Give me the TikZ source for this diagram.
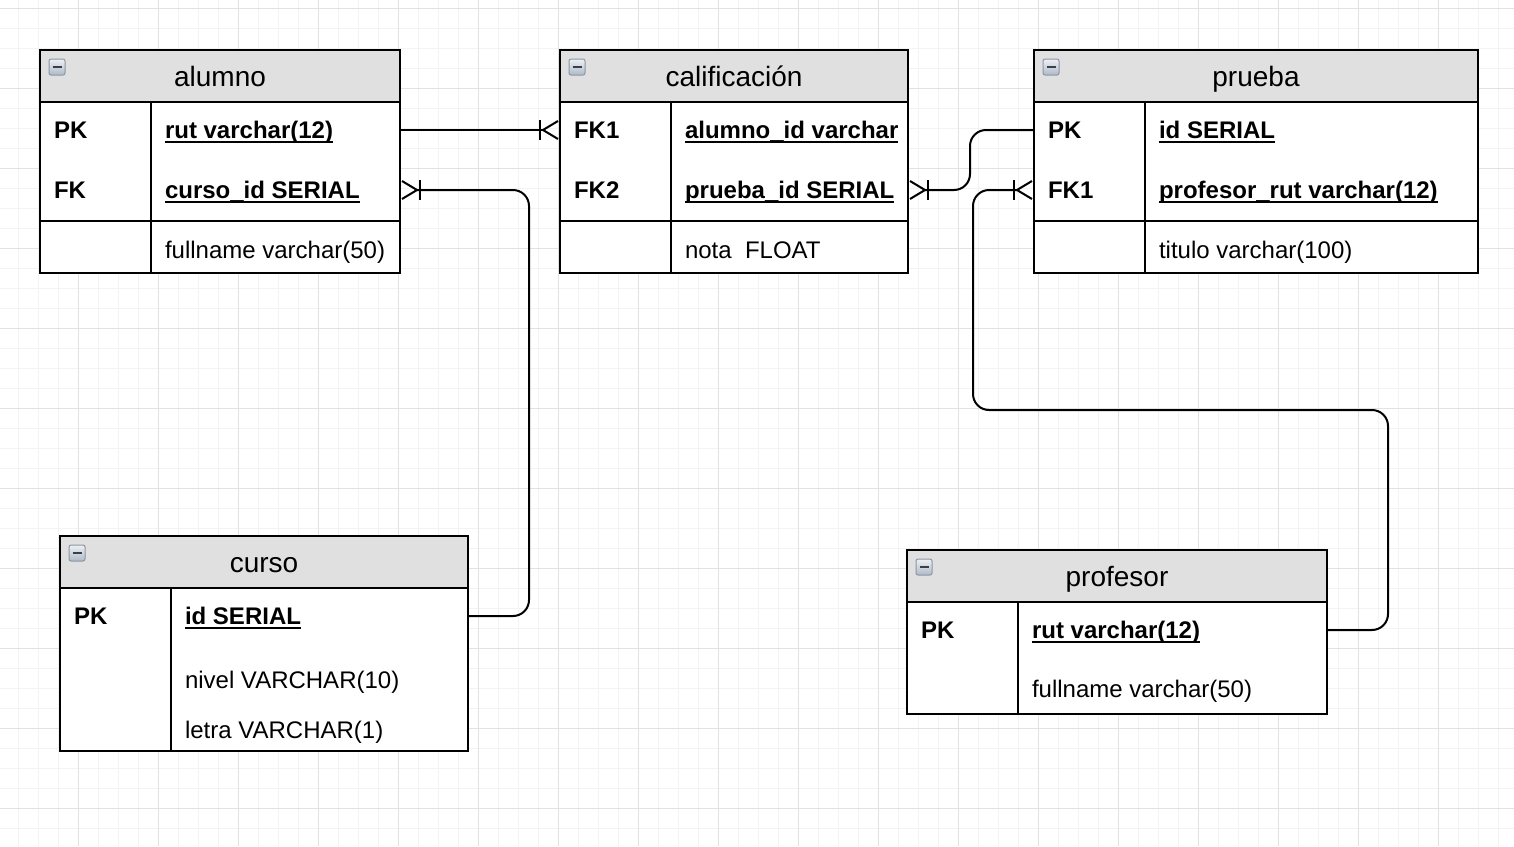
\documentclass[tikz,border=0pt]{standalone}
\usepackage{fontspec}
\setmainfont{Liberation Sans}
\usetikzlibrary{positioning, arrows.meta}
\usepackage{xcolor}

\definecolor{headgray}{HTML}{E0E0E0}
\definecolor{gridminor}{HTML}{F3F3F3}
\definecolor{gridmajor}{HTML}{E2E2E2}
\definecolor{icontop}{HTML}{EEF1F5}
\definecolor{iconbot}{HTML}{AEB9C8}
\definecolor{iconedge}{HTML}{8C96A4}
\definecolor{iconminus}{HTML}{3C4046}

% underlined key field
\newcommand\keyfield[1]{\setbox0\hbox{#1}\rlap{\rule[-4pt]{\wd0}{1.8pt}}\box0}

\begin{document}
\begin{tikzpicture}[x=1pt, y=-1pt, line width=2pt,
                    tblhead/.style={draw, fill=headgray, anchor=north west, minimum height=52pt,
                      inner sep=0pt, text height=20pt, text depth=0pt, font=\fontsize{28}{32}\selectfont},
                    tblbody/.style={draw, fill=white, anchor=north west, inner sep=0pt},
                    keytxt/.style={anchor=west, inner sep=0pt, text height=18pt, text depth=1pt,
                      font=\fontsize{24}{28}\selectfont\bfseries},
                    fldtxt/.style={keytxt, font=\fontsize{24}{28}\selectfont},
                    icon/.style={draw=iconedge, line width=1pt, rounded corners=2pt, minimum size=16pt,
                      inner sep=0pt, top color=icontop, bottom color=iconbot, text=iconminus},
                    crow/.style={-{Bar[width=20pt,sep=0pt] Straight Barb[reversed,length=15pt,width=18pt,sep=0pt]},
                      rounded corners=16pt}]

    % background grid
    \useasboundingbox (0,0) rectangle (1514,846);
    \fill[white] (0,0) rectangle (1514,846);
    \foreach \gx in {18,38,...,1514} \draw[gridminor, line width=1pt] (\gx,0) -- (\gx,846);
    \foreach \gy in {8,28,...,846} \draw[gridminor, line width=1pt] (0,\gy) -- (1514,\gy);
    \foreach \gx in {78,158,...,1514} \draw[gridmajor, line width=1pt] (\gx,0) -- (\gx,846);
    \foreach \gy in {8,88,...,846} \draw[gridmajor, line width=1pt] (0,\gy) -- (1514,\gy);

    % alumno
    \node[tblbody, minimum width=360pt, minimum height=171pt] (alumno-b) at (39,101) {};
    \node[tblhead, minimum width=360pt] (alumno) at (39,49) {alumno};
    \node[icon] (alumno-ico) at (57,67) {\rule{9pt}{2.4pt}};
    \draw (151,101) -- (151,272);
    \draw (39,221) -- (399,221);
    \node[keytxt] (alumno-pk) at (53,130) {PK};
    \node[keytxt] (alumno-fkk) at (53,190) {FK};
    \node[keytxt] (alumno-rut) at (164,130) {\keyfield{rut varchar(12)}};
    \node[keytxt] (alumno-fk) at (164,190) {\keyfield{curso\_id SERIAL}};
    \node[fldtxt] (alumno-name) at (164,250) {fullname varchar(50)};

    % calificacion
    \node[tblbody, minimum width=348pt, minimum height=171pt] (calif-b) at (559,101) {};
    \node[tblhead, minimum width=348pt] (calif) at (559,49) {calificación};
    \node[icon] (calif-ico) at (577,67) {\rule{9pt}{2.4pt}};
    \draw (671,101) -- (671,272);
    \draw (559,221) -- (907,221);
    \node[keytxt] (calif-k1) at (573,130) {FK1};
    \node[keytxt] (calif-k2) at (573,190) {FK2};
    \node[keytxt] (calif-fk1) at (684,130) {\keyfield{alumno\_id varchar}};
    \node[keytxt] (calif-fk2) at (684,190) {\keyfield{prueba\_id SERIAL}};
    \node[fldtxt] (calif-nota) at (684,250) {nota\ \ FLOAT};

    % prueba
    \node[tblbody, minimum width=444pt, minimum height=171pt] (prueba-b) at (1033,101) {};
    \node[tblhead, minimum width=444pt] (prueba) at (1033,49) {prueba};
    \node[icon] (prueba-ico) at (1051,67) {\rule{9pt}{2.4pt}};
    \draw (1145,101) -- (1145,272);
    \draw (1033,221) -- (1477,221);
    \node[keytxt] (prueba-pk) at (1047,130) {PK};
    \node[keytxt] (prueba-k1) at (1047,190) {FK1};
    \node[keytxt] (prueba-id) at (1158,130) {\keyfield{id SERIAL}};
    \node[keytxt] (prueba-fk1) at (1158,190) {\keyfield{profesor\_rut varchar(12)}};
    \node[fldtxt] (prueba-tit) at (1158,250) {titulo varchar(100)};

    % curso
    \node[tblbody, minimum width=408pt, minimum height=163pt] (curso-b) at (59,587) {};
    \node[tblhead, minimum width=408pt] (curso) at (59,535) {curso};
    \node[icon] (curso-ico) at (77,553) {\rule{9pt}{2.4pt}};
    \draw (171,587) -- (171,750);
    \node[keytxt] (curso-pk) at (73,616) {PK};
    \node[keytxt] (curso-id) at (184,616) {\keyfield{id SERIAL}};
    \node[fldtxt] (curso-nivel) at (184,680) {nivel VARCHAR(10)};
    \node[fldtxt] (curso-letra) at (184,730) {letra VARCHAR(1)};

    % profesor
    \node[tblbody, minimum width=420pt, minimum height=112pt] (profesor-b) at (906,601) {};
    \node[tblhead, minimum width=420pt] (profesor) at (906,549) {profesor};
    \node[icon] (profesor-ico) at (924,567) {\rule{9pt}{2.4pt}};
    \draw (1018,601) -- (1018,713);
    \node[keytxt] (profesor-pk) at (920,630) {PK};
    \node[keytxt] (profesor-rut) at (1031,630) {\keyfield{rut varchar(12)}};
    \node[fldtxt] (profesor-name) at (1031,689) {fullname varchar(50)};

    % relations
    \coordinate (bend) at (973,410);
    \draw[crow] (alumno-b.east |- alumno-rut.west) -- (calif-b.west |- calif-fk1.west);
    \draw[crow] (curso-b.east |- curso-id.west) -- ++(60,0) |- (alumno-b.east |- alumno-fk.west);
    \draw[crow] (prueba-b.west |- prueba-id.west) -- ++(-63,0) |- (calif-b.east |- calif-fk2.west);
    \draw[crow] (profesor-b.east |- profesor-rut.west) -- ++(60,0) |- (bend) |- (prueba-b.west |- prueba-fk1.west);
\end{tikzpicture}
\end{document}
